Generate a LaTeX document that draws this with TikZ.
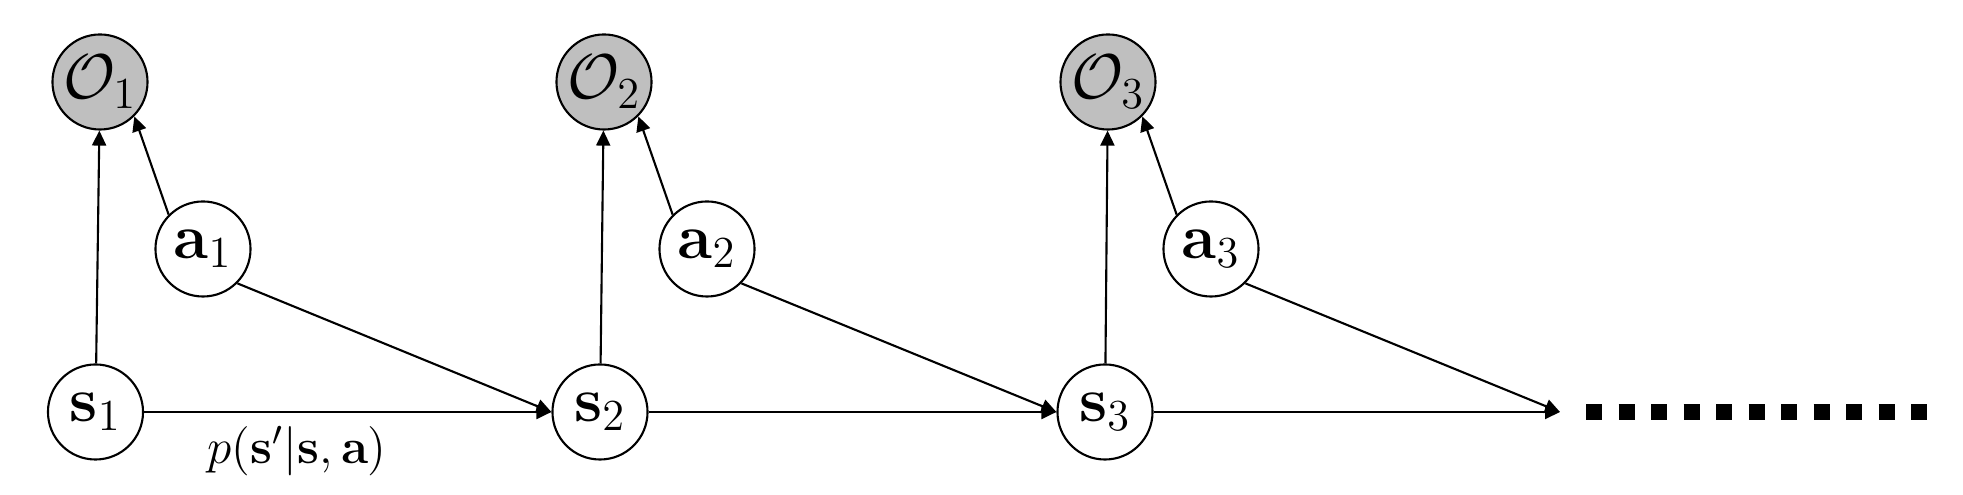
\documentclass[tikz,border=0pt]{standalone}
\usepackage{fix-cm}
\usetikzlibrary{arrows.meta}
\begin{document}
\begin{tikzpicture}[x=0.01cm,y=-0.01cm,
  var/.style={circle,draw,line width=0.6pt,minimum size=0.95cm,inner sep=0pt,
    font=\fontsize{18}{22}\selectfont},
  obs/.style={var,fill=black!25},
  conn/.style={line width=0.6pt,-{Triangle[length=0.15cm,width=0.14cm]}},
  dotsline/.style={line width=0.16cm,dash pattern=on 0.16cm off 0.165cm}]
\useasboundingbox (0,0) rectangle (1963,495);
\node[obs] (O1) at (100,82) {$\mathcal{O}_1$};
\node[obs] (O2) at (604,82) {$\mathcal{O}_2$};
\node[obs] (O3) at (1108,82) {$\mathcal{O}_3$};
\node[var] (a1) at (203,249) {$\mathbf{a}_1$};
\node[var] (a2) at (707,249) {$\mathbf{a}_2$};
\node[var] (a3) at (1211,249) {$\mathbf{a}_3$};
\node[var] (s1) at (95.5,412) {$\mathbf{s}_1$};
\node[var] (s2) at (600,412) {$\mathbf{s}_2$};
\node[var] (s3) at (1105,412) {$\mathbf{s}_3$};
\coordinate (end) at (1560,412);
\coordinate (d1) at (1586,412);
\coordinate (d2) at (1927,412);
\draw[conn] (s1) -- (O1);
\draw[conn] (s2) -- (O2);
\draw[conn] (s3) -- (O3);
\draw[conn] (a1.north west) -- (O1.south east);
\draw[conn] (a2.north west) -- (O2.south east);
\draw[conn] (a3.north west) -- (O3.south east);
\draw[conn] (a1.south east) -- (s2.west);
\draw[conn] (a2.south east) -- (s3.west);
\draw[conn] (a3.south east) -- (end);
\draw[conn] (s1) -- node[pos=0.376,anchor=north,inner sep=0pt,yshift=-0.13cm,
  font=\fontsize{14}{17}\selectfont] (lbl) {$p(\mathbf{s}'|\mathbf{s},\mathbf{a})$} (s2);
\draw[conn] (s2) -- (s3);
\draw[conn] (s3) -- (end);
\draw[dotsline] (d1) -- (d2);
\end{tikzpicture}
\end{document}
